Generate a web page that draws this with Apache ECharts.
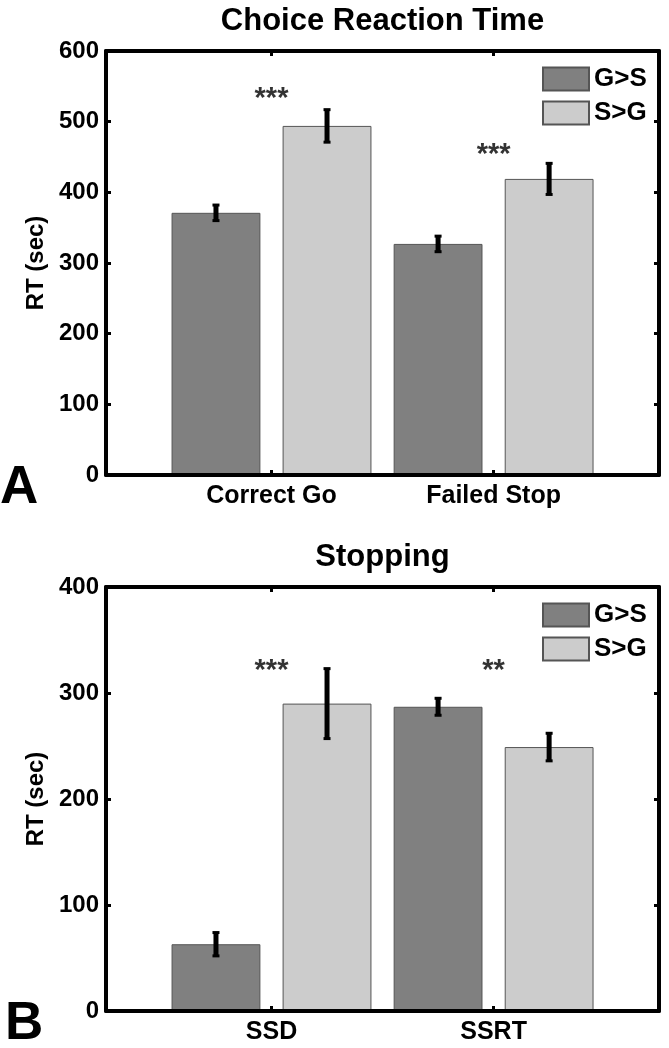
<!DOCTYPE html>
<html>
<head>
<meta charset="utf-8">
<script src="https://cdn.jsdelivr.net/npm/echarts@6/dist/echarts.min.js"></script>
<style>
html,body{margin:0;padding:0;background:#fff;}
#c{width:669px;height:1048px;}
</style>
</head>
<body>
<div id="c"></div>
<script>
// ---------- data ----------
const seriesNames = ['G>S', 'S>G'];

const titleA = 'Choice Reaction Time';
const categoriesA = ['Correct Go', 'Failed Stop'];
const gsA = [371, 327];
const gsAErr = [11, 11];
const sgA = [494, 419];
const sgAErr = [23, 22];
const starsA = ['***', '***'];
const starsAAt = [541, 462];
const yMaxA = 600;
const yStepA = 100;

const titleB = 'Stopping';
const categoriesB = ['SSD', 'SSRT'];
const gsB = [63, 287];
const gsBErr = [11, 8];
const sgB = [290, 249];
const sgBErr = [33, 13];
const starsB = ['***', '**'];
const starsBAt = [326, 326];
const yMaxB = 400;
const yStepB = 100;

const yAxisName = 'RT (sec)';
const panelLetters = ['A', 'B'];

// ---------- style ----------
const FONT = '"Liberation Sans", Arial, Helvetica, sans-serif';
const colors = ['#808080', '#cccccc'];
const edge = '#555555';
const frameLeft = 106, frameWidth = 553, frameHeight = 424;
const frameTops = [51, 587];
const catCenters = [271.5, 493.6];
const band = catCenters[1] - catCenters[0];
const barGridLeft = catCenters[0] - band / 2;
const barGridWidth = band * 2;

const chart = echarts.init(document.getElementById('c'), null, {renderer: 'canvas'});

const grids = [], xAxes = [], yAxes = [], series = [], legends = [], graphics = [];

function errRender(offsetFrac) {
  return function (params, api) {
    const x = api.value(0), m = api.value(1), e = api.value(2);
    const bw = api.size([1, 0])[0];
    const top = api.coord([x, m + e]);
    const bot = api.coord([x, m - e]);
    const cx = top[0] + offsetFrac * bw;
    const st = {stroke: '#000', lineWidth: 5};
    const cs = {stroke: '#000', lineWidth: 3};
    return {
      type: 'group',
      children: [
        {type: 'line', shape: {x1: cx, y1: top[1], x2: cx, y2: bot[1]}, style: st},
        {type: 'line', shape: {x1: cx - 3.5, y1: top[1], x2: cx + 3.5, y2: top[1]}, style: cs},
        {type: 'line', shape: {x1: cx - 3.5, y1: bot[1], x2: cx + 3.5, y2: bot[1]}, style: cs}
      ]
    };
  };
}

function addPanel(p, title, cats, gs, gsErr, sg, sgErr, stars, starsAt, yMax, yStep) {
  const top = frameTops[p];
  const g0 = grids.length;
  grids.push({left: frameLeft, top: top, width: frameWidth, height: frameHeight, containLabel: false});
  grids.push({left: barGridLeft, top: top, width: barGridWidth, height: frameHeight, containLabel: false});
  const x0 = xAxes.length;
  const lineStyle = {color: '#000', width: 4};
  xAxes.push({gridIndex: g0, type: 'value', min: 0, max: 1, position: 'bottom', z: 5,
    axisLine: {show: true, onZero: false, lineStyle: lineStyle}, axisTick: {show: false},
    axisLabel: {show: false}, splitLine: {show: false}});
  xAxes.push({gridIndex: g0, type: 'value', min: 0, max: 1, position: 'top', z: 5,
    axisLine: {show: true, onZero: false, lineStyle: lineStyle}, axisTick: {show: false},
    axisLabel: {show: false}, splitLine: {show: false}});
  xAxes.push({gridIndex: g0 + 1, type: 'category', data: cats, position: 'bottom', z: 6,
    axisLine: {show: false, onZero: false},
    axisTick: {show: true, inside: true, alignWithLabel: true, length: 5, lineStyle: {color: '#000', width: 3}},
    axisLabel: {show: true, margin: 9, color: '#000', fontFamily: FONT, fontWeight: 'bold', fontSize: 25},
    splitLine: {show: false}});
  xAxes.push({gridIndex: g0 + 1, type: 'category', data: cats, position: 'top', z: 6,
    axisLine: {show: false, onZero: false},
    axisTick: {show: true, inside: true, alignWithLabel: true, length: 5, lineStyle: {color: '#000', width: 3}},
    axisLabel: {show: false}, splitLine: {show: false}});
  const y0 = yAxes.length;
  yAxes.push({gridIndex: g0, type: 'value', min: 0, max: yMax, interval: yStep, position: 'left', z: 5,
    name: yAxisName, nameLocation: 'middle', nameGap: 56,
    nameTextStyle: {color: '#000', fontFamily: FONT, fontWeight: 'bold', fontSize: 24},
    axisLine: {show: true, onZero: false, lineStyle: lineStyle},
    axisTick: {show: true, inside: true, length: 5, lineStyle: {color: '#000', width: 3}},
    axisLabel: {show: true, margin: 7, color: '#000', fontFamily: FONT, fontWeight: 'bold', fontSize: 24},
    splitLine: {show: false}});
  yAxes.push({gridIndex: g0, type: 'value', min: 0, max: yMax, interval: yStep, position: 'right', z: 5,
    axisLine: {show: true, onZero: false, lineStyle: lineStyle},
    axisTick: {show: true, inside: true, length: 5, lineStyle: {color: '#000', width: 3}},
    axisLabel: {show: false}, splitLine: {show: false}});
  yAxes.push({gridIndex: g0 + 1, type: 'value', min: 0, max: yMax, show: false, splitLine: {show: false}});

  const vals = [gs, sg], errs = [gsErr, sgErr];
  for (let s = 0; s < 2; s++) {
    series.push({
      type: 'bar', name: seriesNames[s], xAxisIndex: x0 + 2, yAxisIndex: y0 + 2,
      data: vals[s], barGap: '25%', barCategoryGap: '10%', z: 2,
      itemStyle: {color: colors[s], borderColor: edge, borderWidth: 1},
      emphasis: {disabled: true}, animation: false
    });
  }
  for (let s = 0; s < 2; s++) {
    series.push({
      type: 'custom', name: seriesNames[s] + ' err', xAxisIndex: x0 + 2, yAxisIndex: y0 + 2, z: 4,
      renderItem: errRender(s === 0 ? -0.25 : 0.25),
      data: vals[s].map((v, i) => [i, v, errs[s][i]]),
      animation: false, silent: true
    });
  }
  series.push({
    type: 'scatter', name: 'stars', xAxisIndex: x0 + 2, yAxisIndex: y0 + 2, z: 4,
    symbolSize: 0, silent: true, animation: false,
    data: starsAt.map((v, i) => ({value: [i, v], label: {formatter: stars[i]}})),
    label: {show: true, position: 'inside', offset: [0, 6], color: '#000', fontFamily: FONT, fontWeight: 'bold', fontSize: 29}
  });
  legends.push({
    orient: 'vertical', left: 542, top: top + 15, padding: 0, itemWidth: 46, itemHeight: 23, itemGap: 8,
    icon: 'rect', selectedMode: false, data: seriesNames,
    textStyle: {color: '#000', fontFamily: FONT, fontWeight: 'bold', fontSize: 26, lineHeight: 23}
  });
  graphics.push({type: 'text', x: frameLeft + frameWidth / 2, y: top - 30, z: 10,
    style: {text: title, align: 'center', verticalAlign: 'middle', fill: '#000',
      font: 'bold 31px ' + FONT}});
  graphics.push({type: 'text', x: p === 0 ? 0 : 5, y: top + frameHeight + 13, z: 10,
    style: {text: panelLetters[p], align: 'left', verticalAlign: 'middle', fill: '#000',
      font: 'bold 53px ' + FONT}});
}

addPanel(0, titleA, categoriesA, gsA, gsAErr, sgA, sgAErr, starsA, starsAAt, yMaxA, yStepA);
addPanel(1, titleB, categoriesB, gsB, gsBErr, sgB, sgBErr, starsB, starsBAt, yMaxB, yStepB);

chart.setOption({
  animation: false,
  backgroundColor: '#fff',
  grid: grids,
  xAxis: xAxes,
  yAxis: yAxes,
  series: series,
  legend: legends,
  graphic: graphics
});
</script>
</body>
</html>
